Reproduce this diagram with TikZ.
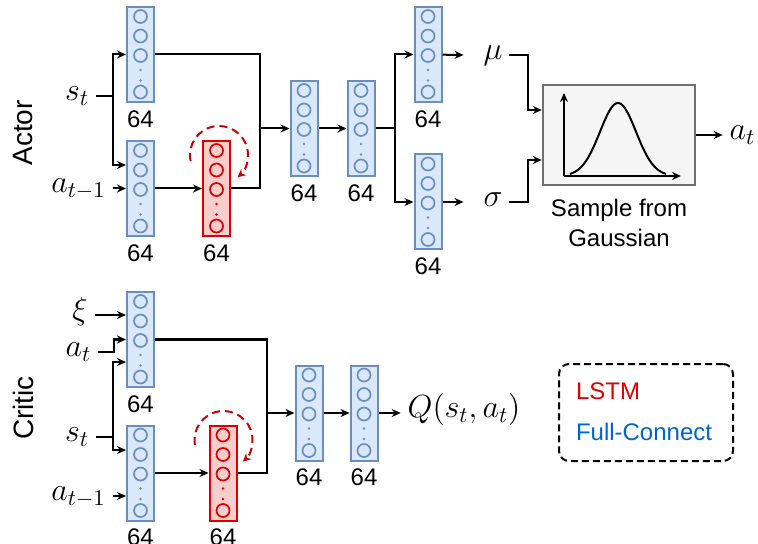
\RequirePackage{fix-cm}
\documentclass[tikz,border=0pt]{standalone}
\usepackage{fontspec}
\setsansfont{Liberation Sans}
\usetikzlibrary{arrows.meta, positioning, calc}
\definecolor{fcfill}{HTML}{DAE8FC}
\definecolor{fcedge}{HTML}{6C8EBF}
\definecolor{lstmfill}{HTML}{F8CECC}
\definecolor{lstmedge}{HTML}{DD0000}
\definecolor{loopred}{HTML}{CC0000}
\definecolor{gaussfill}{HTML}{F5F5F5}
\definecolor{gaussedge}{HTML}{707070}
\definecolor{keyred}{HTML}{E00000}
\definecolor{keyblue}{HTML}{0066CC}

\begin{document}
\begin{tikzpicture}[x=0.5pt, y=-0.5pt, >={Stealth[length=4.5pt,width=4pt]}, line width=1pt,
	font=\sffamily\fontsize{12}{15}\selectfont,
	fc/.style={draw=fcedge, fill=fcfill, line width=1pt, minimum width=13.5pt, minimum height=47.5pt,
		inner sep=0pt, label distance=1.5pt, label={below:64}},
	lstm/.style={fc, draw=lstmedge, fill=lstmfill},
	unit/.style={draw=#1, line width=0.85pt},
	lbl/.style={inner sep=3pt, anchor=mid, font=\fontsize{16}{19}\selectfont},
	recur/.style={loopred, line width=1pt, dash pattern=on 4pt off 2.5pt, -{Stealth[length=4pt,width=4pt]}},
	sidelabel/.style={font=\sffamily\fontsize{14}{16}\selectfont, rotate=90}]
	\useasboundingbox (0,0) rectangle (758,544);
	% layers
	\foreach \n/\x/\y/\k/\c in {a1/140.5/54.5/fc/fcedge, a2/140.5/188.5/fc/fcedge, a3/216.5/188.5/lstm/lstmedge,
		a4/304/128.5/fc/fcedge, a5/361/128.5/fc/fcedge, a6/428/54.5/fc/fcedge, a7/428/202/fc/fcedge,
		c1/140.5/339.5/fc/fcedge, c2/140.5/473/fc/fcedge, c3/223/473/lstm/lstmedge,
		c4/309/413/fc/fcedge, c5/364/413/fc/fcedge}{
		\node[\k] (\n) at (\x,\y) {};
		\foreach \dy in {-38,-18.5,1,37.5}
		\draw[unit=\c] ($(\n)+(0,\dy)$) circle (3.25pt);
		\fill[\c] ($(\n)+(0,15.5)$) circle (0.65pt) ($(\n)+(0,26)$) circle (0.65pt);
	}
	\node[sidelabel] (actor) at (23,133) {Actor};
	\node[sidelabel] (critic) at (23,408) {Critic};
	% actor
	\node[lbl] (st) at (77,96) {$s_t$};
	\node[lbl] (atm) at (78.5,188.5) {$a_{t-1}$};
	\node[lbl] (mu) at (493,55) {$\mu$};
	\node[lbl] (sig) at (493,202) {$\sigma$};
	\node[draw=gaussedge, fill=gaussfill, line width=1.2pt, minimum width=76pt, minimum height=50pt] (gauss) at (619,135) {};
	\node[below=2.5pt of gauss, align=center] (gtxt) {Sample from\\Gaussian};
	\node[lbl] (atout) at (742.5,135) {$a_t$};
	\coordinate (ja) at (113,96);
	\draw (st.mid east) -- (ja);
	\draw[->] (ja) |- (a1.west);
	\draw[->] (ja) |- ([yshift=11.75pt]a2.west);
	\draw[->] (atm.mid east) -- (a2.west);
	\draw[->] (a2) -- (a3);
	\coordinate (jb) at (260,128.5);
	\draw (a1.east) -| (jb) (a3.east) -| (jb);
	\draw[->] (jb) -- (a4);
	\draw[->] (a4) -- (a5);
	\coordinate (jc) at (395,128.5);
	\draw (a5) -- (jc);
	\draw[->] (jc) |- (a6);
	\draw[->] (jc) |- (a7);
	\draw[->] (a6) -- ([xshift=-6.5pt]mu.mid west);
	\draw[->] (a7) -- ([xshift=-6.5pt]sig.mid west);
	\draw[->] (mu.mid east) -- ++(19,0) |- ([yshift=12.5pt]gauss.west);
	\draw[->] (sig.mid east) -- ++(19,0) |- ([yshift=-12.5pt]gauss.west);
	\draw[->] (gauss) -- (atout.mid west);
	\draw[->] (564,176) -- (564,93);
	\draw[->] (564,176) -- (681,176);
	\draw plot[smooth, domain=570:666, samples=60] (\x, {176-73*exp(-0.5*((\x-618)/18)*((\x-618)/18))});
	\coordinate (a3loop) at ($(a3.north)+(2.5,15)$);
	\draw[recur] ([shift={(192:14.5pt)}]a3loop) arc[start angle=192, end angle=-50, radius=14.5pt];
	% critic
	\node[lbl] (xi) at (80,315) {$\xi$};
	\node[lbl] (atc) at (78.5,352) {$a_t$};
	\node[lbl] (stc) at (77,437) {$s_t$};
	\node[lbl] (atmc) at (78.5,496) {$a_{t-1}$};
	\node[lbl] (q) at (464,413) {$Q(s_t,a_t)$};
	\draw[->] (xi.mid east) -- (xi.mid east -| c1.west);
	\draw[->] (atc.mid east) -- ++(16,0) |- (c1.west);
	\coordinate (jd) at (113,437);
	\draw (stc.mid east) -- (jd);
	\draw[->] (jd) |- ([yshift=-11.25pt]c1.west);
	\draw[->] (jd) |- ([yshift=11.5pt]c2.west);
	\draw[->] (atmc.mid east) -- (atmc.mid east -| c2.west);
	\draw[->] (c2) -- (c3);
	\coordinate (je) at (267,413);
	\draw (c1.east) -| (je) (c3.east) -| (je);
	\draw[->] (je) -- (c4);
	\draw[->] (c4) -- (c5);
	\draw[->] (c5) -- (q.mid west);
	\coordinate (c3loop) at ($(c3.north)+(0.5,15.5)$);
	\draw[recur] ([shift={(190:14.5pt)}]c3loop) arc[start angle=190, end angle=-48, radius=14.5pt];
	% legend
	\node[draw, line width=1pt, dash pattern=on 3.5pt off 2pt, rounded corners=5pt,
		minimum width=87pt, minimum height=48.5pt] (key) at (646,412.5) {};
	\node[anchor=base west, inner sep=0pt, text=keyred] (keylstm) at (575,399) {LSTM};
	\node[anchor=base west, inner sep=0pt, text=keyblue] (keyfc) at (575,440) {Full-Connect};
\end{tikzpicture}
\end{document}
